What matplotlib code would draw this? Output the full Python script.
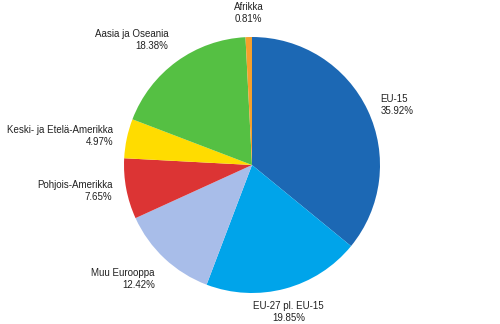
import numpy as np
import matplotlib.pyplot as plt

plt.rcParams['font.family'] = ['Liberation Sans', 'DejaVu Sans']

# Data (clockwise from top)
labels = ['EU-15', 'EU-27 pl. EU-15', 'Muu Eurooppa', 'Pohjois-Amerikka',
          'Keski- ja Etelä-Amerikka', 'Aasia ja Oseania', 'Afrikka']
shares = [35.92, 19.85, 12.42, 7.65, 4.97, 18.38, 0.81]
colors = ['#1c68b4', '#00a4ea', '#a8bde9', '#dc3434', '#ffdc00', '#55c043', '#f5a02c']

fig = plt.figure(figsize=(5, 3.24), dpi=100)
# pie centre at (252,165) px, radius 128 px
r = 128
ax = fig.add_axes([(252 - r) / 500, 1 - (165 + r) / 324, 2 * r / 500, 2 * r / 324])

wedges, _ = ax.pie(shares, colors=colors, startangle=90, counterclock=False,
                   wedgeprops=dict(linewidth=0))
ax.set_xlim(-1, 1)
ax.set_ylim(-1, 1)
ax.set_aspect('auto')

for w, lab, val in zip(wedges, labels, shares):
    ang = np.deg2rad((w.theta1 + w.theta2) / 2)
    c, s = np.cos(ang), np.sin(ang)
    ha = 'left' if c > 0.3 else ('right' if c < -0.3 else 'center')
    va = 'bottom' if s > 0.5 else ('top' if s < -0.5 else 'center')
    ax.text(1.11 * c, 1.1 * s, f'{lab}\n{val:.2f}%', ha=ha, va=va,
            multialignment=ha if ha != 'center' else 'center',
            fontsize=7, color='#222222', linespacing=1.3, clip_on=False)

ax.axis('off')
fig.savefig('out.png', dpi=100)
